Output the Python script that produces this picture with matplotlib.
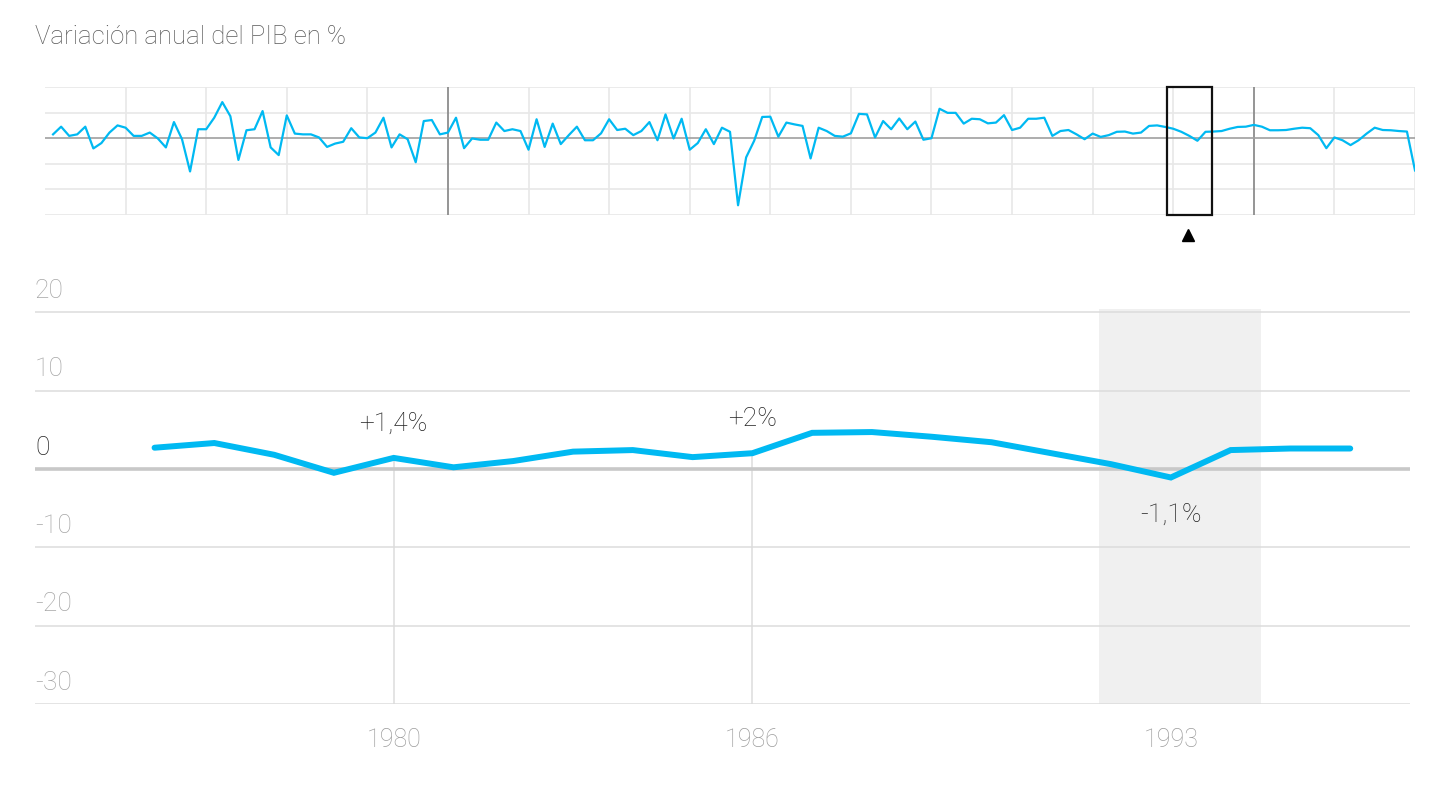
import matplotlib
matplotlib.use('Agg')
import matplotlib.pyplot as plt
from matplotlib.transforms import blended_transform_factory
from matplotlib.patches import Rectangle

plt.rcParams['font.family'] = ['Roboto', 'DejaVu Sans']
plt.rcParams['font.weight'] = 'light'

# ---- data ----
# long series (mini chart), one value per year from 1851 to 2020
hist_start = 1851
hist_values = [
    1.5, 4.5, 0.9, 1.5, 4.5, -4.0, -1.9, 2.2, 5.0, 4.1,
    0.9, 0.9, 2.2, -0.1, -3.6, 6.3, -0.4, -13.0, 3.5, 3.5,
    8.0, 14.1, 8.6, -8.5, 3.1, 3.5, 10.6, -3.6, -6.6, 8.9,
    1.8, 1.5, 1.5, 0.3, -3.4, -2.1, -1.4, 3.9, 0.3, 0.0,
    2.2, 8.0, -3.6, 1.5, -0.4, -9.4, 6.7, 7.1, 1.5, 2.2,
    8.0, -3.9, -0.1, -0.6, -0.6, 6.1, 2.8, 3.5, 2.8, -4.5,
    7.4, -3.4, 5.7, -2.3, 1.2, 4.5, -0.8, -0.8, 1.9, 7.4,
    3.2, 3.7, 1.2, 2.8, 6.3, -0.8, 9.3, -0.1, 7.6, -4.5,
    -1.9, 3.5, -2.3, 4.1, 2.5, -26.2, -7.5, -1.0, 8.3, 8.4,
    0.6, 6.1, 5.4, 4.8, -7.9, 4.1, 2.8, 0.9, 0.6, 1.9,
    9.5, 9.3, 0.3, 6.7, 3.5, 7.7, 3.5, 6.5, -0.6, 0.0,
    11.5, 9.9, 9.9, 5.7, 7.6, 7.4, 5.8, 6.1, 9.0, 3.2,
    4.1, 7.6, 7.6, 8.0, 0.9, 2.8, 3.2, 1.5, -0.4, 1.8,
    0.5, 1.2, 2.5, 2.6, 1.8, 2.2, 4.8, 5.0, 4.4, 3.7,
    2.5, 0.9, -1.0, 2.5, 2.6, 2.8, 3.7, 4.4, 4.5, 5.2,
    4.5, 3.1, 3.1, 3.2, 3.7, 4.1, 3.9, 1.2, -3.9, 0.3,
    -0.8, -2.7, -0.8, 1.8, 4.1, 3.2, 3.1, 2.8, 2.6, -12.6,
]
hist_years = list(range(hist_start, hist_start + len(hist_values)))

# zoomed series (main chart)
years = list(range(1976, 1997))
values = [2.7, 3.3, 1.8, -0.5, 1.4, 0.2, 1.0, 2.2, 2.4, 1.5, 2.0,
          4.6, 4.7, 4.1, 3.4, 2.0, 0.6, -1.1, 2.4, 2.6, 2.6]

y_ticks = [20, 10, 0, -10, -20, -30]
x_ticks = [1980, 1986, 1993]
highlights = [1980, 1986, 1993]
highlight_labels = ['+1,4%', '+2%', '-1,1%']
drop_years = [1980, 1986]

window = (1989.2, 1994.8)     # selection box in the mini chart
marker_year = 1991.85
band = (1991.8, 1994.5)       # shaded period in the main chart

blue = '#00b9f2'
W, H = 1456, 788

fig = plt.figure(figsize=(W / 100, H / 100), dpi=100)

fig.text(35 / W, 1 - 37 / H, 'Variación anual del PIB en %', fontsize=18.5,
         color='#5a5a5a', va='center', ha='left')

# ---- mini chart ----
mini = fig.add_axes([45 / W, 1 - 215 / H, 1370 / W, 128 / H])
mini.set_xlim(1850, 2020)
mini.set_ylim(-30, 20)
for v in y_ticks:
    if v != 0:
        mini.axhline(v, color='#e8e8e8', lw=1.2, zorder=1)
for yr in range(1860, 2021, 10):
    dark = yr in (1900, 2000)
    mini.axvline(yr, color='#8c8c8c' if dark else '#e8e8e8',
                 lw=1.3 if dark else 1.2, zorder=1)
mini.axhline(0, color='#a0a0a0', lw=1.2, zorder=2)
mini.plot(hist_years, hist_values, color=blue, lw=1.6, zorder=3)
tr = blended_transform_factory(mini.transData, mini.transAxes)
mini.add_patch(Rectangle((window[0], 0), window[1] - window[0], 1,
                         transform=tr, fill=False, edgecolor='#111111',
                         lw=1.6, clip_on=False, zorder=5))
mini.plot([marker_year], [-0.155], marker='^', color='black', ms=8,
          transform=tr, clip_on=False)
mini.axis('off')

# ---- main chart ----
ax = fig.add_axes([35 / W, 1 - 704 / H, 1375 / W, 395 / H])
ax.set_xlim(1974, 1997)
ax.set_ylim(-30, 20.4)
ax.axvspan(band[0], band[1], color='#f0f0f0', zorder=0, lw=0)
for v in y_ticks:
    if v == 0:
        ax.axhline(0, color='#c8c8c8', lw=2.6, zorder=2)
    else:
        ax.axhline(v, color='#dcdcdc', lw=1.1, zorder=1)
for yr in drop_years:
    ax.plot([yr, yr], [values[years.index(yr)], -30], color='#dcdcdc',
            lw=1.1, zorder=1)
ax.plot(years, values, color=blue, lw=4.3, solid_capstyle='round',
        solid_joinstyle='miter', zorder=4)

ytr = blended_transform_factory(ax.transAxes, ax.transData)
for v in y_ticks:
    ax.text(0, v + 2.7, str(v), transform=ytr, ha='left', va='center',
            fontsize=19, color='#222222' if v == 0 else '#a6a6a6')

for yr, lab in zip(highlights, highlight_labels):
    val = values[years.index(yr)]
    off = 34 if val >= 0 else -37
    ax.annotate(lab, (yr, val), xytext=(0, off), textcoords='offset pixels',
                ha='center', va='center', fontsize=19, color='#222222',
                zorder=6)

ax.set_xticks(x_ticks)
ax.set_xticklabels([str(x) for x in x_ticks], fontsize=18, color='#9c9c9c')
ax.tick_params(axis='x', length=0, pad=17)
ax.set_yticks([])
for s in ax.spines.values():
    s.set_visible(False)

fig.savefig('out.png', dpi=100, facecolor='white')
